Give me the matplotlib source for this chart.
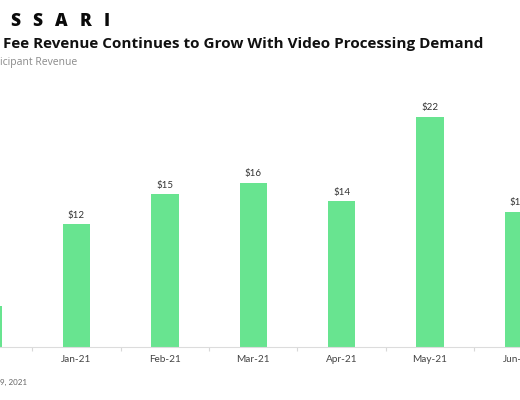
import numpy as np
import matplotlib
matplotlib.use('Agg')
import matplotlib.pyplot as plt

# data (USD)
months = ['Dec-20', 'Jan-21', 'Feb-21', 'Mar-21', 'Apr-21', 'May-21', 'Jun-21']
revenue = [3.9, 11.7, 14.6, 15.7, 13.9, 22.0, 12.9]
logo_letters = ['S', 'S', 'A', 'R', 'I']

W, H = 520, 400
green = '#68e490'

fig = plt.figure(figsize=(W / 100, H / 100), dpi=100)

# axes: baseline at 346.7 px from top, top edge at 100 px
ax = fig.add_axes([0, 1 - 346.7 / H, 1, (346.7 - 100) / H])
x = np.arange(len(months))
bars = ax.bar(x, revenue, width=0.31, color=green, zorder=2)

for b, v in zip(bars, revenue):
    ax.annotate('$%d' % round(v), (b.get_x() + b.get_width() / 2, v),
                xytext=(0, 6.5), textcoords='offset points',
                ha='center', va='center', fontsize=7, family='Lato', color='#333333')

ax.set_xticks(x)
ax.set_xticklabels(months, family='Lato', fontsize=7.2, color='#444444')
ax.tick_params(axis='x', which='major', length=0, pad=6)
ax.set_xticks(x[:-1] + 0.5, minor=True)
ax.tick_params(axis='x', which='minor', length=3, color='#d8d8d8', width=0.8)
ax.set_yticks([])

# limits last, set_xticks would widen them otherwise
step = 88.375  # px between categories
ax.set_xlim(1 - 76.5 / step, 1 + (W - 76.5) / step)
ax.set_ylim(0, 246.7 / 10.45)

for s in ['top', 'right', 'left']:
    ax.spines[s].set_visible(False)
ax.spines['bottom'].set_color('#dcdcdc')
ax.spines['bottom'].set_linewidth(0.8)
ax.patch.set_alpha(0)

# logo, spaced letters with an even gap
r = fig.canvas.get_renderer()
px = 10
for ch in logo_letters:
    t = fig.text(px / W, 1 - 26 / H, ch, fontsize=12.5, fontweight='heavy',
                 family='Open Sans', color='#0a0a0a', va='baseline', ha='left')
    px += t.get_window_extent(r).width + 12.3

fig.text(3 / W, 1 - 48 / H, 'Fee Revenue Continues to Grow With Video Processing Demand',
         fontsize=11, fontweight='bold', family='Open Sans', color='#111111',
         va='baseline', ha='left')
fig.text(0, 1 - 63 / H, 'icipant Revenue', fontsize=7.5, family='Open Sans',
         color='#8a8a8a', va='center', ha='left')
fig.text(27 / W, 1 - 382 / H, '9, 2021', fontsize=5.8, family='Lato',
         color='#666666', va='center', ha='right')

fig.savefig('out.png', dpi=100)
